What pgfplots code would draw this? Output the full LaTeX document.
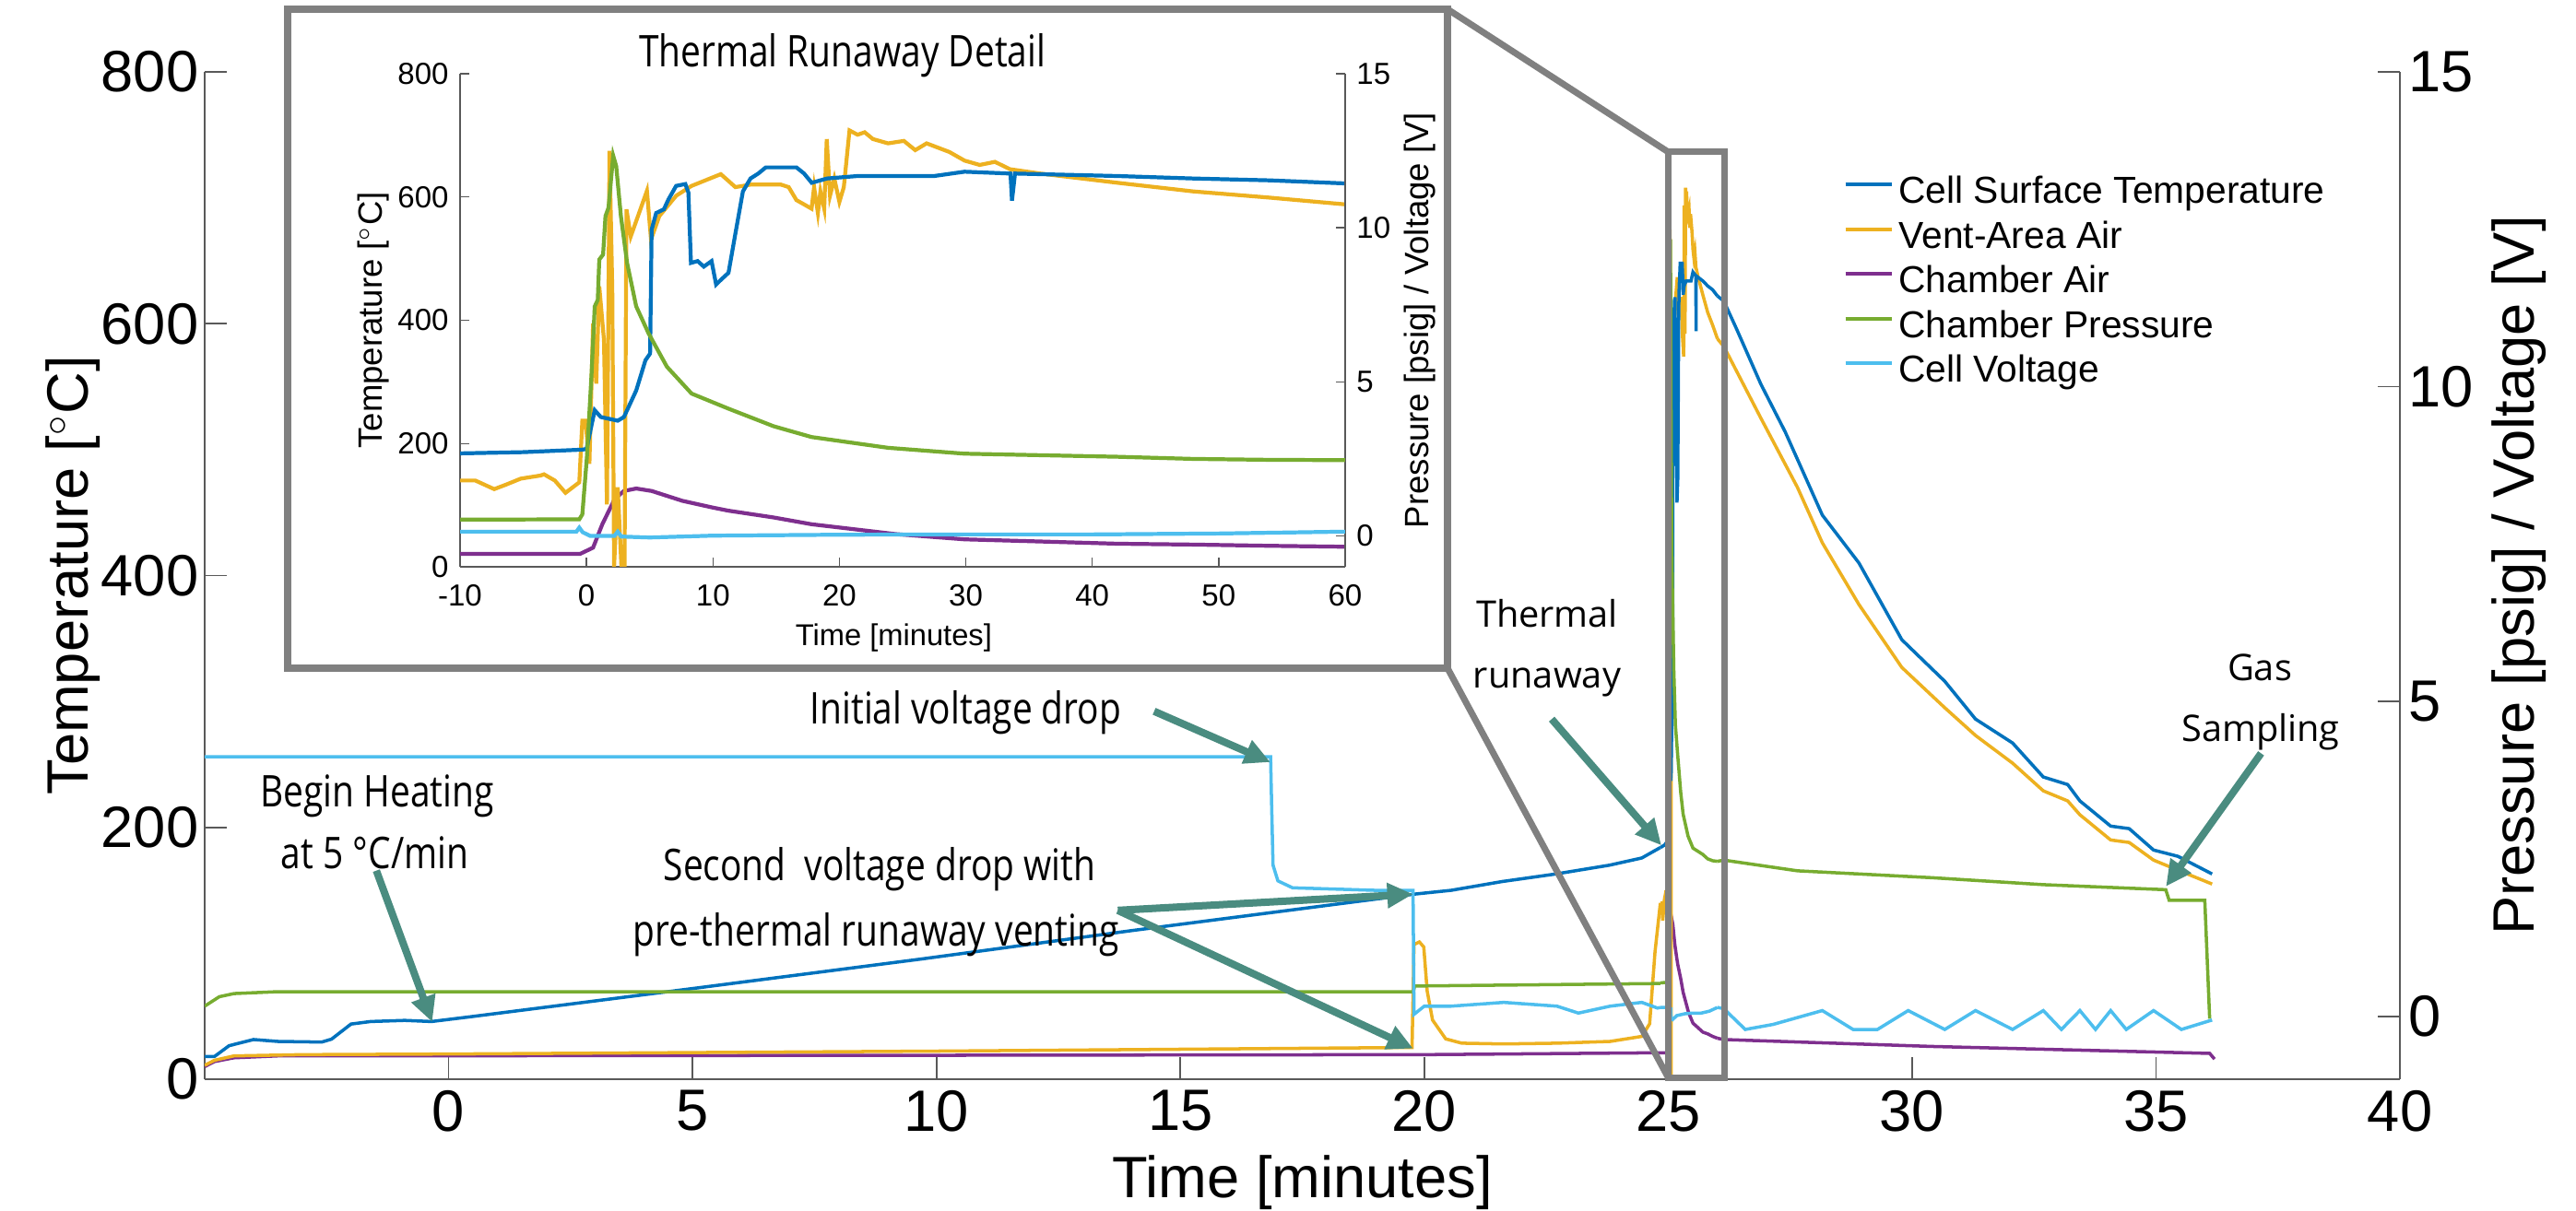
\documentclass[border=0pt]{standalone}
\usepackage{pgfplots}
\pgfplotsset{compat=1.18}
\usepackage{pgfplotstable}
\usepackage{fontspec}
\setmainfont{Liberation Sans}
\newfontfamily\annfont[FakeStretch=0.82]{Open Sans}
\newfontfamily\osfont{Open Sans}
\usetikzlibrary{arrows.meta}

\definecolor{cB}{RGB}{0,114,189}
\definecolor{cO}{RGB}{237,177,32}
\definecolor{cP}{RGB}{126,47,142}
\definecolor{cG}{RGB}{119,172,48}
\definecolor{cL}{RGB}{77,190,238}
\definecolor{arr}{RGB}{74,140,128}
\definecolor{boxgray}{RGB}{128,128,128}

% ---- main test, before thermal runaway (t in minutes) ----
\pgfplotstableread{
t v
-5 18
-4.8 18
-4.5 26.6
-4.0 31.5
-3.5 30
-2.6 29.5
-2.4 31.8
-2.0 43.8
-1.6 45.8
-0.9 46.7
-0.35 45.8
0.45 49.6
5.0 72
9.7 95.5
14.0 118
17.0 133
19.8 147
20.55 150
21.6 157
22.7 163
23.8 170
24.46 175.7
24.84 184
}\mBpre
\pgfplotstableread{
t v
-5 11
-4.8 15
-4.4 18.5
-3 19.5
0 20
10 22.3
19.75 25.2
19.79 107
19.9 109
19.99 105
20.06 70
20.17 47
20.44 32
20.77 28.6
21.63 28
22.72 28.6
23.81 30
24.46 34
24.62 44
24.73 101
24.84 140
}\mOpre
\pgfplotstableread{
t v
-5 10
-4.8 14
-4.4 17
-3.5 18.5
0 18.6
10 19
20 19.5
24.84 21
}\mPpre
\pgfplotstableread{
t v
-5 0.16
-4.7 0.31
-4.4 0.36
-3.5 0.39
19.78 0.39
19.8 0.48
24.84 0.52
}\mGpre
\pgfplotstableread{
t v
-5 4.12
16.85 4.12
16.87 3.4
16.9 2.4
17.0 2.15
17.3 2.04
19.0 2.0
19.77 2.0
19.79 0.03
20.0 0.16
20.55 0.16
21.63 0.22
22.72 0.16
23.16 0.05
23.81 0.16
24.46 0.22
24.78 0.13
24.84 0.14
}\mLpre

% ---- main test, after thermal runaway ----
\pgfplotstableread{
t v
26.01 622
26.14 618
26.40 596
26.90 552
27.40 514
28.16 448
28.91 410
29.79 349
30.67 316
31.30 286
32.06 267
32.69 240
33.19 234
33.44 221
34.07 201
34.45 199
34.95 182
35.45 177
36.15 163
}\mBpost
\pgfplotstableread{
t v
26.01 588
26.14 582
26.90 525
27.65 470
28.16 426
28.91 377
29.79 327
30.67 295
31.30 273
32.06 251
32.69 229
33.19 221
33.44 210
34.07 190
34.45 188
34.95 174
35.45 166
36.15 155
}\mOpost
\pgfplotstableread{
t v
26.01 32.5
26.14 31.5
30.42 26
36.1 20.5
36.2 16
}\mPpost
\pgfplotstableread{
t v
26.01 2.46
26.14 2.48
27.65 2.31
30.42 2.20
32.69 2.09
35.20 2.01
35.27 1.84
36.0 1.84
36.1 -0.04
}\mGpost
\pgfplotstableread{
t v
26.01 0.14
26.14 0.12
26.58 -0.21
27.15 -0.13
28.16 0.09
28.79 -0.21
29.29 -0.21
29.92 0.09
30.67 -0.21
31.30 0.09
32.06 -0.21
32.69 0.09
33.06 -0.21
33.44 0.09
33.76 -0.21
34.07 0.09
34.39 -0.21
34.95 0.09
35.52 -0.21
36.15 -0.06
}\mLpost

% ---- thermal runaway detail (s in seconds around onset) ----
\pgfplotstableread{
s v
-10 184
-5 186
-0.4 190
0 191
0.65 254
1.13 243
2.47 237
2.96 243
3.93 286
4.66 335
5.03 346
5.15 547
5.51 574
6.12 580
6.48 596
7.09 618
7.82 621
8.06 607
8.26 493
8.79 496
9.28 487
9.89 496
10.25 458
10.6 465
11.23 477
11.77 540
12.37 609
12.97 630
13.58 638
14.18 648
16.6 648
17.21 638
17.81 623
19.02 630
21.44 634
27.49 634
29.9 641
33.53 638
33.65 594
33.89 638
42 634
48 630
54 627
60 622
}\iB
\pgfplotstableread{
s v
-10 140
-8.8 140
-7.3 126
-6.4 133
-5.2 143
-3.65 148
-3.36 150
-2.51 140
-1.66 120
-0.57 137
-0.33 237
-0.08 237
0.23 167
0.52 395
0.77 297
1.01 455
1.38 368
1.62 101
1.82 675
2.04 449
2.18 0
2.47 129
2.76 0
3.01 0
3.16 580
3.50 536
4.78 610
5.10 531
5.76 569
7.09 602
8.31 618
10.62 637
11.23 626
11.77 616
12.97 620
15.39 620
15.99 616
16.6 595
17.2 588
17.8 581
18.0 616
18.3 574
18.5 609
18.8 581
19.0 694
19.26 602
19.6 630
20.0 592
20.35 616
20.8 708
21.44 701
22.0 705
22.65 694
23.85 687
25.1 691
26.0 676
26.9 687
27.8 680
28.7 673
29.9 659
31.1 652
32.3 657
33.5 645
35.9 638
42 623
48 609
54 599
60 588
}\iO
\pgfplotstableread{
s v
-10 21
-0.5 21
0.52 31
1.25 69
2.23 110
2.96 123
3.93 127
5.15 123
7.58 107
10.0 96
11.23 91
14.8 80
17.8 69
24.46 53
29.9 44.5
35.95 41
42 37.4
48 36
54.1 34
60 32.5
}\iP
\pgfplotstableread{
s v
-10 0.53
-0.57 0.54
-0.33 0.70
0.03 2.55
0.40 5.27
0.65 7.45
0.89 7.66
1.01 8.97
1.31 9.13
1.50 10.38
1.74 10.65
2.11 12.34
2.35 12.0
2.72 10.38
3.21 8.86
3.93 7.45
4.90 6.58
6.36 5.49
8.31 4.62
11.23 4.13
14.8 3.56
17.8 3.21
23.86 2.86
29.9 2.67
35.95 2.62
42 2.57
48 2.50
54.1 2.47
60 2.46
}\iG
\pgfplotstableread{
s v
-10 0.14
-0.8 0.14
-0.57 0.27
-0.3 0.12
0.3 0.0
2.2 0.0
2.47 0.14
2.75 -0.02
5 -0.05
10 0.01
20 0.04
30 0.05
40 0.05
50 0.08
60 0.14
}\iL

\pgfplotsset{
  base/.style={scale only axis, /pgf/number format/assume math mode=true,
    tick align=inside,
    axis line style={black!65, line width=0.5pt},
    every tick/.style={black!65, line width=0.5pt}},
  big/.style={font=\fontsize{18}{21}\selectfont},
}

\begin{document}
\begin{tikzpicture}
\path[use as bounding box] (0,0) rectangle (27.94,13.14);

% main axis, temperatures
\begin{axis}[base, at={(2.22cm,1.43cm)}, anchor=south west,
  width=23.81cm, height=10.93cm,
  xmin=-5, xmax=40, ymin=0, ymax=800,
  xtick={0,5,...,40}, ytick={0,200,...,800},
  axis x line*=bottom, axis y line*=left, xtick pos=left, ytick pos=left,
  major tick length=0.24cm,
  tick label style={big},
  yticklabel style={inner xsep=0.06cm},
  xlabel={Time [minutes]}, ylabel={Temperature [$^{\circ}$C]},
  every axis x label/.style={at={(axis description cs:0.5,-0.118)}, anchor=base, font=\fontsize{18}{21}\selectfont},
  every axis y label/.style={at={(axis description cs:-0.0533,0.5)}, anchor=base, rotate=90, font=\fontsize{18}{21}\selectfont}]
\addplot[cP, line width=1pt] table {\mPpre};
\addplot[cP, line width=1pt] table[x expr=25.01+\thisrow{s}/60, y=v] {\iP};
\addplot[cP, line width=1pt] table {\mPpost};
\addplot[cO, line width=1pt] table {\mOpre};
\addplot[cO, line width=1pt] table[x expr=25.01+\thisrow{s}/60, y=v] {\iO};
\addplot[cO, line width=1pt] table {\mOpost};
\addplot[cB, line width=1pt] table {\mBpre};
\addplot[cB, line width=1pt] table[x expr=25.01+\thisrow{s}/60, y=v] {\iB};
\addplot[cB, line width=1pt] table {\mBpost};
\end{axis}

% main axis, pressure and voltage
\begin{axis}[base, at={(2.22cm,1.43cm)}, anchor=south west,
  width=23.81cm, height=10.93cm,
  xmin=-5, xmax=40, ymin=-1, ymax=15,
  axis x line=none, axis y line*=right, xtick=\empty,
  ytick={0,5,10,15}, ytick pos=right, yticklabel pos=right,
  major tick length=0.24cm,
  tick label style={big},
  yticklabel style={inner xsep=0.09cm},
  ylabel={Pressure [psig] / Voltage [V]},
  every axis y label/.style={at={(axis description cs:1.0613,0.5)}, anchor=base, rotate=90, font=\fontsize{18}{21}\selectfont},
  legend style={at={(axis description cs:0.7467,0.8966)}, anchor=north west,
    draw=none, fill=none, inner sep=0pt, outer sep=0pt,
    font=\fontsize{11.6}{14}\selectfont, column sep=0.06cm, row sep=0pt,
    nodes={inner sep=0pt, text height=0.30cm, text depth=0.185cm}},
  legend cell align=left,
  legend image code/.code={\draw[#1] (0cm,0.15cm) -- (0.5cm,0.15cm);}]
\addlegendimage{cB, line width=1pt}\addlegendentry{Cell Surface Temperature}
\addlegendimage{cO, line width=1pt}\addlegendentry{Vent-Area Air}
\addlegendimage{cP, line width=1pt}\addlegendentry{Chamber Air}
\addlegendimage{cG, line width=1pt}\addlegendentry{Chamber Pressure}
\addlegendimage{cL, line width=1pt}\addlegendentry{Cell Voltage}
\addplot[cG, line width=1pt, forget plot] table {\mGpre};
\addplot[cG, line width=1pt, forget plot] table[x expr=25.01+\thisrow{s}/60, y=v] {\iG};
\addplot[cG, line width=1pt, forget plot] table {\mGpost};
\addplot[cL, line width=1pt, forget plot] table {\mLpre};
\addplot[cL, line width=1pt, forget plot] table[x expr=25.01+\thisrow{s}/60, y=v] {\iL};
\addplot[cL, line width=1pt, forget plot] table {\mLpost};
\end{axis}

% inset frame
\fill[white] (3.115,5.89) rectangle (15.70,13.04);
\draw[boxgray, line width=0.08cm] (3.115,5.89) rectangle (15.70,13.04);

% inset, temperatures
\begin{axis}[base, at={(4.99cm,6.99cm)}, anchor=south west,
  width=9.60cm, height=5.35cm,
  xmin=-10, xmax=60, ymin=0, ymax=800,
  xtick={-10,0,...,60}, ytick={0,200,...,800},
  axis x line*=bottom, axis y line*=left, xtick pos=left, ytick pos=left,
  major tick length=0.1cm,
  axis line style={black!65, line width=0.4pt},
  every tick/.style={black!65, line width=0.4pt},
  tick label style={font=\fontsize{9.4}{11}\selectfont},
  xticklabel style={yshift=-0.07cm},
  xlabel={Time [minutes]}, ylabel={Temperature [$^{\circ}$C]},
  every axis x label/.style={at={(axis description cs:0.49,-0.1607)}, anchor=base, font=\fontsize{9.3}{11}\selectfont},
  every axis y label/.style={at={(axis description cs:-0.0885,0.5)}, anchor=base, rotate=90, font=\fontsize{10.4}{12}\selectfont}]
\addplot[cP, line width=1.2pt] table {\iP};
\addplot[cO, line width=1.2pt] table {\iO};
\addplot[cB, line width=1.2pt] table {\iB};
\end{axis}

% inset, pressure and voltage
\begin{axis}[base, at={(4.99cm,6.99cm)}, anchor=south west,
  width=9.60cm, height=5.35cm,
  xmin=-10, xmax=60, ymin=-1, ymax=15,
  axis x line=none, axis y line*=right, xtick=\empty,
  ytick={0,5,10,15}, ytick pos=right, yticklabel pos=right,
  major tick length=0.1cm,
  axis line style={black!65, line width=0.4pt},
  every tick/.style={black!65, line width=0.4pt},
  tick label style={font=\fontsize{9.4}{11}\selectfont},
  ylabel={Pressure [psig] / Voltage [V]},
  every axis y label/.style={at={(axis description cs:1.0948,0.5)}, anchor=base, rotate=90, font=\fontsize{10.4}{12}\selectfont}]
\addplot[cG, line width=1.2pt] table {\iG};
\addplot[cL, line width=1.2pt] table {\iL};
\end{axis}

\node[anchor=base, font=\annfont\fontsize{13.5}{16}\selectfont] at (9.136,12.41) {Thermal Runaway Detail};

% zoom window and connectors
\draw[boxgray, line width=0.07cm] (18.095,1.445) rectangle (18.70,11.49);
\draw[boxgray, line width=0.07cm] (15.70,13.04) -- (18.095,11.49);
\draw[boxgray, line width=0.07cm] (15.70,5.89) -- (18.095,1.445);

% annotations
\begin{scope}[font=\annfont\fontsize{13.5}{16}\selectfont]
\node[anchor=base] at (10.475,5.28) {Initial voltage drop};
\node[anchor=base] at (9.54,3.583) {Second\ \ voltage drop with};
\node[anchor=base] at (9.50,2.87) {pre-thermal runaway venting};
\node[anchor=base] at (4.09,4.38) {Begin Heating};
\node[anchor=base] at (4.066,3.712) {at 5 °C/min};
\end{scope}
\begin{scope}[font=\osfont\fontsize{11.3}{13}\selectfont]
\node[anchor=base] at (16.78,6.33) {Thermal};
\node[anchor=base] at (16.78,5.67) {runaway};
\node[anchor=base] at (24.51,5.752) {Gas};
\node[anchor=base] at (24.52,5.093) {Sampling};
\end{scope}

\begin{scope}[arr, line width=0.08cm, -{Triangle[length=0.28cm,width=0.26cm]}]
\draw (4.082,3.693) -- (4.688,2.05);
\draw (12.518,5.422) -- (13.779,4.87);
\draw (12.124,3.262) -- (15.327,3.438);
\draw (12.124,3.262) -- (15.327,1.763);
\draw (16.83,5.337) -- (18.02,3.967);
\draw (24.524,4.966) -- (23.492,3.521);
\end{scope}
\end{tikzpicture}
\end{document}
